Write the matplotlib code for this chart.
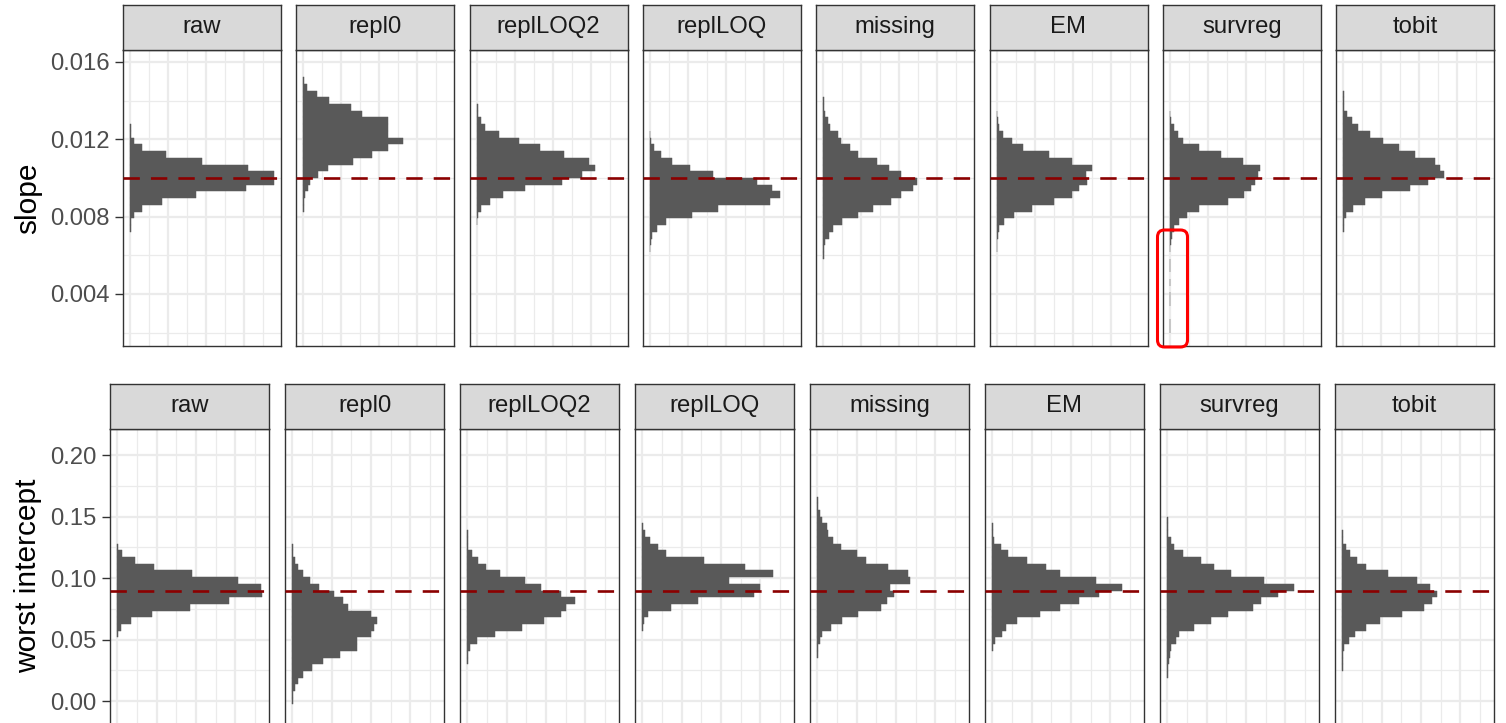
import matplotlib.pyplot as plt
from matplotlib.patches import FancyBboxPatch
from matplotlib.transforms import IdentityTransform

plt.rcParams['font.family'] = ['Liberation Sans', 'DejaVu Sans']

W, H = 1506, 723

methods = ["raw", "repl0", "replLOQ2", "replLOQ", "missing", "EM", "survreg", "tobit"]

# slope histograms: counts per bin, lowest bin first
# bin i of a method starts at anchor + (first + i) * bw
slope_bw = 0.000348
slope_anchor = 0.010
slope_first = [-8, -5, -7, -11, -12, -11, -23, -8]
slope_raw = [1, 2, 9, 30, 85, 173, 305, 378, 378, 311, 190, 93, 30, 9, 2, 1]
slope_repl0 = [1, 2, 5, 12, 16, 37, 64, 129, 181, 222, 263, 223, 223, 223, 155, 125, 68, 35, 9, 2]
slope_replLOQ2 = [1, 3, 12, 34, 69, 127, 223, 278, 312, 296, 230, 167, 110, 58, 21, 10, 4, 2]
slope_replLOQ = [1, 2, 4, 19, 41, 111, 179, 316, 342, 320, 281, 165, 106, 58, 30, 10, 3, 1]
slope_missing = [1, 2, 4, 15, 26, 48, 90, 131, 179, 203, 236, 247, 205, 172, 140, 92, 70, 46, 39, 17, 13, 4, 2, 1]
slope_EM = [1, 2, 3, 7, 20, 45, 92, 151, 197, 216, 238, 234, 250, 197, 138, 70, 40, 16, 7, 3, 1]
slope_survreg = [1, 1, 0, 0, 1, 1, 0, 1, 0, 1, 1, 0, 1, 2, 4, 10, 24, 45, 76, 153, 194, 214, 224,
                 231, 237, 193, 133, 77, 35, 20, 10, 3, 1]
slope_tobit = [1, 3, 8, 25, 58, 101, 175, 223, 264, 254, 241, 188, 147, 104, 71, 40, 23, 10, 3, 2, 1]
slope_true = 0.010

# worst intercept histograms
int_bw = 0.00545
int_anchor = 0.09
int_first = [-7, -17, -11, -6, -10, -9, -13, -12]
int_raw = [2, 10, 35, 89, 184, 283, 367, 365, 306, 190, 94, 44, 13, 2]
int_repl0 = [1, 3, 8, 14, 27, 50, 77, 121, 165, 165, 199, 208, 216, 200, 142, 130, 107, 67, 44, 28, 14, 8, 3, 1]
int_replLOQ2 = [1, 3, 8, 26, 70, 140, 196, 237, 252, 274, 238, 188, 146, 83, 47, 28, 13, 3, 2, 1]
int_replLOQ = [1, 4, 15, 72, 141, 285, 299, 221, 333, 262, 158, 60, 40, 19, 7, 2]
int_missing = [1, 3, 7, 13, 36, 62, 104, 162, 178, 194, 184, 235, 230, 180, 123, 102, 61, 39, 28, 26, 11, 6, 2, 1]
int_EM = [2, 7, 24, 36, 64, 121, 173, 221, 270, 329, 263, 172, 136, 89, 40, 22, 5, 2, 1]
int_survreg = [1, 2, 5, 7, 9, 22, 30, 68, 110, 155, 217, 237, 280, 321, 245, 162, 120, 87, 39, 16, 9, 3, 1, 1]
int_tobit = [1, 2, 3, 5, 16, 33, 60, 96, 152, 207, 228, 241, 222, 189, 117, 60, 37, 20, 10, 3, 1]
int_true = 0.09

slope_counts = [slope_raw, slope_repl0, slope_replLOQ2, slope_replLOQ,
                slope_missing, slope_EM, slope_survreg, slope_tobit]
int_counts = [int_raw, int_repl0, int_replLOQ2, int_replLOQ,
              int_missing, int_EM, int_survreg, int_tobit]

slope_ticks = [0.004, 0.008, 0.012, 0.016]
slope_labels = ["0.004", "0.008", "0.012", "0.016"]
int_ticks = [0.00, 0.05, 0.10, 0.15, 0.20]
int_labels = ["0.00", "0.05", "0.10", "0.15", "0.20"]

fig = plt.figure(figsize=(W / 100, H / 100), dpi=100)


def px_axes(left, top, width, height):
    return fig.add_axes([left / W, 1 - (top + height) / H, width / W, height / H])


def draw_row(lefts, width, strip_top, panel_top, panel_h, counts, first, bw, anchor,
             true_val, ylim, ticks, labels, minor, title, title_y):
    m = max(max(c) for c in counts)
    xlim = (-0.05 * m, 1.05 * m)
    for i, name in enumerate(methods):
        ax = px_axes(lefts[i], panel_top, width, panel_h)
        bottoms = [anchor + (first[i] + j) * bw for j in range(len(counts[i]))]
        widths = counts[i]
        ax.barh(bottoms, widths, height=bw, align='edge', color='#595959',
                edgecolor=['#595959' if w > 0 else 'none' for w in widths],
                linewidth=0.35, zorder=2)
        ax.axhline(true_val, color='#8B0000', lw=1.9, ls=(0, (6.2, 4.2)), zorder=3)
        ax.set_xlim(*xlim)
        ax.set_ylim(*ylim)
        ax.set_xticks([0, 100, 200, 300])
        ax.set_xticks([50, 150, 250, 350], minor=True)
        ax.set_yticks(ticks)
        ax.set_yticks(minor, minor=True)
        ax.grid(which='major', color='#EBEBEB', lw=1.6, zorder=0)
        ax.grid(which='minor', color='#EBEBEB', lw=0.9, zorder=0)
        ax.set_axisbelow(True)
        ax.tick_params(axis='x', which='both', length=0, labelbottom=False)
        ax.tick_params(axis='y', which='minor', length=0)
        if i == 0:
            ax.set_yticklabels(labels)
            ax.tick_params(axis='y', which='major', length=5.5, width=1.0,
                           color='#333333', labelsize=17.2, labelcolor='#4D4D4D', pad=4)
        else:
            ax.tick_params(axis='y', which='major', length=0, labelleft=False)
        for sp in ax.spines.values():
            sp.set_color('#333333')
            sp.set_linewidth(1.0)

        st = px_axes(lefts[i], strip_top, width, panel_top - strip_top)
        st.set_facecolor('#D9D9D9')
        st.set_xticks([])
        st.set_yticks([])
        for sp in st.spines.values():
            sp.set_color('#333333')
            sp.set_linewidth(1.0)
        st.text(0.5, 0.5, name, ha='center', va='center', fontsize=17.2,
                color='#1A1A1A', transform=st.transAxes)

    fig.text(28 / W, 1 - title_y / H, title, rotation=90, ha='center', va='center',
             fontsize=21.5, color='black')


top_lefts = [123 + i * 173.3 for i in range(8)]
bottom_lefts = [110 + i * 175.0 for i in range(8)]

draw_row(top_lefts, 158, 4.5, 50, 296, slope_counts, slope_first, slope_bw, slope_anchor,
         slope_true, (0.00131, 0.01662), slope_ticks, slope_labels,
         [0.002, 0.006, 0.010, 0.014], "slope", 198)

draw_row(bottom_lefts, 159, 383.5, 429.3, 296, int_counts, int_first, int_bw, int_anchor,
         int_true, (-0.0196, 0.2211), int_ticks, int_labels,
         [0.025, 0.075, 0.125, 0.175], "worst intercept", 576)

# red highlight around the survreg slope tail
box = FancyBboxPatch((1157.5, H - 347), 30, 117, boxstyle="round,pad=0,rounding_size=7",
                     transform=IdentityTransform(), edgecolor='#FF0000', facecolor='none',
                     lw=2.2, zorder=10)
fig.add_artist(box)

fig.savefig("out.png", dpi=100)
